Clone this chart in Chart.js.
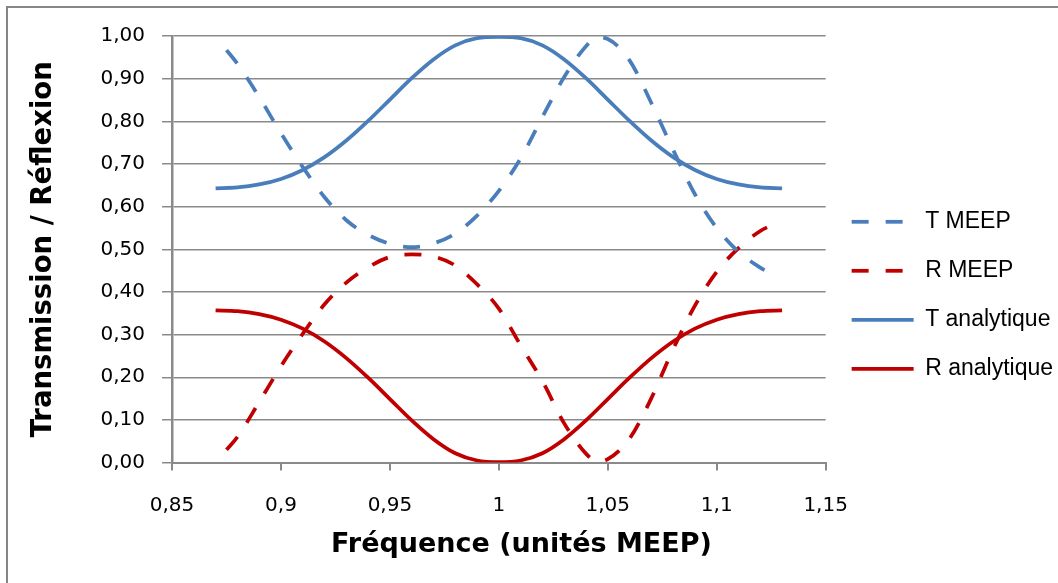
<!DOCTYPE html>
<html>
<head>
<meta charset="utf-8">
<script src="https://cdn.jsdelivr.net/npm/chart.js@4"></script>
<style>
  html, body { margin: 0; padding: 0; background: #fff; }
  #wrap { position: relative; width: 1058px; height: 583px; overflow: hidden; }
  #frame { position: absolute; left: 6px; top: 6px; right: -10px; bottom: -10px;
           border-left: 2.5px solid #868686; border-top: 2.5px solid #868686; }
  #chart { position: absolute; left: 0; top: 0; }
</style>
</head>
<body>
<div id="wrap">
  <div id="frame"></div>
  <canvas id="chart" width="1058" height="583"></canvas>
</div>
<script>
// frequencies (MEEP units)
const freqMeep = [0.875, 0.88, 0.89, 0.9, 0.91, 0.92, 0.93, 0.94, 0.95, 0.96, 0.97, 0.98, 0.99, 1.0,
                  1.01, 1.02, 1.03, 1.04, 1.045, 1.05, 1.06, 1.07, 1.08, 1.09, 1.1, 1.11, 1.12, 1.125];
const tMeep = [0.967, 0.935, 0.857, 0.772, 0.693, 0.622, 0.568, 0.534, 0.513, 0.505, 0.514, 0.537, 0.579, 0.637,
               0.713, 0.81, 0.904, 0.976, 0.997, 0.993, 0.943, 0.843, 0.733, 0.629, 0.55, 0.494, 0.457, 0.442];
const rMeep = [0.03, 0.06, 0.142, 0.226, 0.302, 0.371, 0.422, 0.458, 0.482, 0.488, 0.483, 0.462, 0.418, 0.361,
               0.275, 0.191, 0.092, 0.021, 0.003, 0.008, 0.056, 0.151, 0.266, 0.368, 0.447, 0.503, 0.543, 0.556];

const freqAna = [0.87, 0.88, 0.89, 0.9, 0.91, 0.92, 0.93, 0.94, 0.95, 0.96, 0.97, 0.98, 0.99, 1.0,
                 1.01, 1.02, 1.03, 1.04, 1.05, 1.06, 1.07, 1.08, 1.09, 1.1, 1.11, 1.12, 1.13];
const tAna = [0.643, 0.645, 0.652, 0.665, 0.686, 0.716, 0.755, 0.801, 0.851, 0.901, 0.945, 0.978, 0.995, 0.998,
              0.995, 0.978, 0.945, 0.901, 0.851, 0.801, 0.755, 0.716, 0.686, 0.665, 0.652, 0.645, 0.643];
const rAna = [0.357, 0.355, 0.348, 0.335, 0.314, 0.284, 0.245, 0.199, 0.149, 0.099, 0.055, 0.022, 0.005, 0.001,
              0.005, 0.022, 0.055, 0.099, 0.149, 0.199, 0.245, 0.284, 0.314, 0.335, 0.348, 0.355, 0.357];

const seriesNames = ['T MEEP', 'R MEEP', 'T analytique', 'R analytique'];

// axis ticks
const xTicks = [0.85, 0.9, 0.95, 1.0, 1.05, 1.1, 1.15];
const xTickLabels = ['0,85', '0,9', '0,95', '1', '1,05', '1,1', '1,15'];
const yTicks = [0, 0.1, 0.2, 0.3, 0.4, 0.5, 0.6, 0.7, 0.8, 0.9, 1.0];
const yTickLabels = ['0,00', '0,10', '0,20', '0,30', '0,40', '0,50', '0,60', '0,70', '0,80', '0,90', '1,00'];

const BLUE = '#4a7ebb';
const RED = '#c00000';
const GRID = '#8a8a8a';
const LINE_W = 3.75;

const pts = (xs, ys) => xs.map((x, i) => ({x: x, y: ys[i]}));

function lineSet(label, data, color, dashed) {
  return {
    label: label,
    data: data,
    borderColor: color,
    backgroundColor: color,
    borderWidth: LINE_W,
    borderDash: dashed ? [17, 17] : [],
    pointRadius: 0,
    fill: false,
    cubicInterpolationMode: 'monotone'
  };
}

const ctx = document.getElementById('chart').getContext('2d');
new Chart(ctx, {
  type: 'line',
  data: {
    datasets: [
      lineSet(seriesNames[0], pts(freqMeep, tMeep), BLUE, true),
      lineSet(seriesNames[1], pts(freqMeep, rMeep), RED, true),
      lineSet(seriesNames[2], pts(freqAna, tAna), BLUE, false),
      lineSet(seriesNames[3], pts(freqAna, rAna), RED, false)
    ]
  },
  options: {
    responsive: false,
    animation: false,
    devicePixelRatio: 1,
    layout: { padding: { top: 36, left: -20, right: -5, bottom: 0 } },
    plugins: {
      tooltip: { enabled: false },
      legend: {
        position: 'right',
        fullSize: false,
        // empty title only used as a spacer above the legend items
        title: { display: true, text: ' ', font: { size: 10 }, padding: { top: 80, bottom: 0 } },
        labels: {
          usePointStyle: true,
          pointStyle: 'line',
          pointStyleWidth: 62,
          padding: 26,
          color: '#000',
          font: { family: "'Liberation Sans', Arial, sans-serif", size: 23 },
          generateLabels: chart => {
            const items = Chart.defaults.plugins.legend.labels.generateLabels(chart);
            items.forEach(it => {
              const ds = chart.data.datasets[it.datasetIndex];
              it.lineDash = ds.borderDash;
              it.lineWidth = LINE_W;
              it.strokeStyle = ds.borderColor;
            });
            return items;
          }
        }
      },
      title: {
        display: true,
        position: 'bottom',
        text: 'Fréquence (unités MEEP)',
        color: '#000',
        font: { family: "'DejaVu Sans', sans-serif", size: 27, weight: 'bold' },
        padding: { top: -12, bottom: 22 }
      }
    },
    scales: {
      x: {
        type: 'linear',
        min: 0.85,
        max: 1.15,
        afterBuildTicks: s => { s.ticks = xTicks.map(v => ({value: v})); },
        ticks: {
          padding: 23,
          color: '#000',
          font: { family: "'DejaVu Sans', sans-serif", size: 20 },
          callback: (v, i) => xTickLabels[i]
        },
        grid: { drawOnChartArea: false, drawTicks: true, tickLength: 8, color: GRID, lineWidth: 2 },
        border: { display: true, color: GRID, width: 2 }
      },
      y: {
        min: 0,
        max: 1,
        afterBuildTicks: s => { s.ticks = yTicks.map(v => ({value: v})); },
        ticks: {
          padding: 17,
          color: '#000',
          font: { family: "'DejaVu Sans', sans-serif", size: 20 },
          callback: (v, i) => yTickLabels[i]
        },
        grid: { drawTicks: true, tickLength: 10, color: GRID, lineWidth: 1.5 },
        border: { display: true, color: GRID, width: 2.5 },
        title: {
          display: true,
          text: 'Transmission / Réflexion',
          color: '#000',
          font: { family: "'DejaVu Sans', sans-serif", size: 27.5, weight: 'bold' },
          padding: { top: 47.5, bottom: 23 }
        }
      }
    }
  }
});
</script>
</body>
</html>
